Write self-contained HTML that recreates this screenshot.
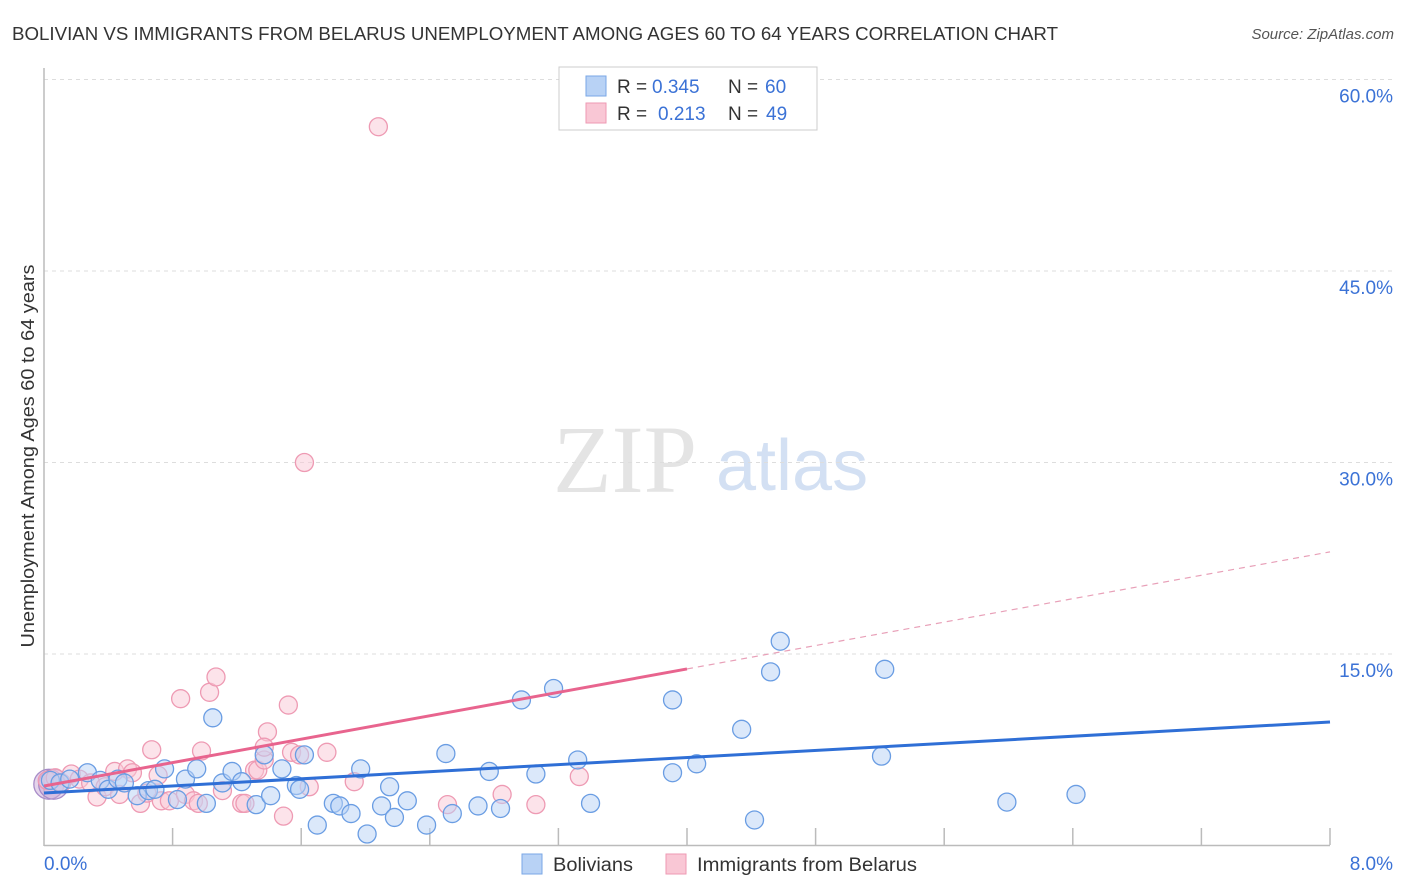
<!DOCTYPE html>
<html><head><meta charset="utf-8">
<style>
body{margin:0;background:#fff;font-family:"Liberation Sans",sans-serif;}
#wrap{position:relative;width:1406px;height:892px;overflow:hidden;}
</style></head>
<body>
<div id="wrap">
<svg id="svg" width="1406" height="892" xmlns="http://www.w3.org/2000/svg">
<text x="12" y="40" font-size="18" fill="#333" textLength="1046" lengthAdjust="spacingAndGlyphs">BOLIVIAN VS IMMIGRANTS FROM BELARUS UNEMPLOYMENT AMONG AGES 60 TO 64 YEARS CORRELATION CHART</text>
<text x="1394" y="39" font-size="15" fill="#555" font-style="italic" text-anchor="end">Source: ZipAtlas.com</text>
<g>
<text x="553" y="492" font-size="96" font-family="Liberation Serif,serif" fill="#e4e4e4">ZIP</text>
<text x="716" y="490" font-size="72" fill="#d3e0f3">atlas</text>
</g>
<g id="grid"></g>
<g id="axes"></g>
<g id="pts"></g>
<g id="trend"></g>
<text transform="translate(34,456) rotate(-90)" font-size="18" fill="#333" text-anchor="middle" textLength="383" lengthAdjust="spacingAndGlyphs">Unemployment Among Ages 60 to 64 years</text>
<g>
<rect x="559" y="67" width="258" height="63" fill="#fff" stroke="#ccc"/>
<rect x="586" y="76" width="20" height="20" fill="#b8d2f5" stroke="#7aa7e6"/>
<rect x="586" y="103" width="20" height="20" fill="#f9c7d5" stroke="#ee9ab3"/>
<text y="93" font-size="19" fill="#333"><tspan x="617">R =</tspan><tspan x="652" fill="#3b72d6">0.345</tspan><tspan x="728">N =</tspan><tspan x="765" fill="#3b72d6">60</tspan></text>
<text y="120" font-size="19" fill="#333"><tspan x="617">R =</tspan><tspan x="658" fill="#3b72d6">0.213</tspan><tspan x="728">N =</tspan><tspan x="766" fill="#3b72d6">49</tspan></text>
</g>
<g>
<rect x="522" y="854" width="20" height="20" fill="#b8d2f5" stroke="#7aa7e6"/>
<text x="553" y="871" font-size="19" fill="#333" textLength="80" lengthAdjust="spacingAndGlyphs">Bolivians</text>
<rect x="666" y="854" width="20" height="20" fill="#f9c7d5" stroke="#ee9ab3"/>
<text x="697" y="871" font-size="19" fill="#333" textLength="220" lengthAdjust="spacingAndGlyphs">Immigrants from Belarus</text>
</g>
</svg>
</div>
<script>
const yTicks=[15,30,45,60];
const xTickLabels=["0.0%","8.0%"];
const blueX=[0.04,0.10,0.16,0.27,0.35,0.40,0.46,0.50,0.58,0.65,0.69,0.75,0.83,0.88,0.95,1.01,1.05,1.11,1.17,1.23,1.32,1.37,1.41,1.48,1.57,1.59,1.62,1.70,1.80,1.84,1.91,1.97,2.01,2.10,2.15,2.18,2.26,2.38,2.50,2.54,2.70,2.77,2.84,2.97,3.06,3.17,3.32,3.40,3.91,3.91,4.06,4.34,4.42,4.52,4.58,5.21,5.23,5.99,6.42];
const blueY=[5.1,4.9,5.2,5.7,5.1,4.4,5.2,4.9,3.9,4.3,4.4,6.0,3.6,5.2,6.0,3.3,10.0,4.9,5.8,5.0,3.2,7.1,3.9,6.0,4.7,4.4,7.1,1.6,3.3,3.1,2.5,6.0,0.9,3.1,4.6,2.2,3.5,1.6,7.2,2.5,3.1,5.8,2.9,11.4,5.6,12.3,6.7,3.3,11.4,5.7,6.4,9.1,2.0,13.6,16.0,7.0,13.8,3.4,4.0];
const pinkX=[0.02,0.07,0.11,0.17,0.22,0.29,0.33,0.38,0.44,0.47,0.52,0.55,0.60,0.64,0.67,0.71,0.73,0.78,0.85,0.88,0.93,0.96,0.98,1.03,1.07,1.11,1.23,1.25,1.31,1.33,1.37,1.39,1.49,1.52,1.54,1.59,1.65,1.76,1.93,2.08,1.62,2.51,2.85,3.06,3.33,1.37];
const pinkY=[5.1,5.3,4.9,5.6,5.2,4.9,3.8,4.6,5.8,4.0,6.0,5.7,3.3,4.1,7.5,5.5,3.5,3.5,11.5,4.0,3.5,3.3,7.4,12.0,13.2,4.3,3.3,3.3,5.9,5.9,6.7,8.9,2.3,11.0,7.3,7.1,4.6,7.3,5.0,56.3,30.0,3.2,4.0,3.2,5.4,7.7];
const bigX=[0.03,0.06];const bigY=[4.8,4.8];
const blueTrend=[4.11,9.67];
const pinkTrend=[4.66,23.0];const pinkSolidEnd=4.0;
const X0=44,X1=1330,Y0=845.5,YPX=191.5/15;
const sx=v=>X0+v/8*(X1-X0), sy=v=>Y0-v*YPX;
const NS="http://www.w3.org/2000/svg";
function mk(t,a,p){const e=document.createElementNS(NS,t);for(const k in a)e.setAttribute(k,a[k]);p.appendChild(e);return e;}
const grid=document.getElementById('grid'),axes=document.getElementById('axes'),pts=document.getElementById('pts'),tr=document.getElementById('trend');
yTicks.forEach(v=>{
 const l=mk('line',{x1:44,x2:1394,y1:sy(v),y2:sy(v),stroke:'#ddd','stroke-dasharray':'4,4'},grid);
 
 
 const t=mk('text',{x:1393,y:sy(v)+23,'font-size':19,fill:'#3b72d6','text-anchor':'end'},grid);
 t.textContent=v.toFixed(1)+'%';
 
 
});
let a=mk('line',{x1:44,x2:44,y1:68,y2:846,stroke:'#bbb','stroke-width':1.5},axes);


a=mk('line',{x1:44,x2:1330,y1:845.5,y2:845.5,stroke:'#bbb','stroke-width':1.5},axes);


for(let i=1;i<=10;i++){const t=mk('line',{x1:sx(i*0.8),x2:sx(i*0.8),y1:828,y2:845,stroke:'#bbb','stroke-width':1.5},axes);
 
 }
[[0,44,'start'],[1,1393,'end']].forEach(([i,x,an])=>{const t=mk('text',{x:x,y:870,'font-size':19,fill:'#3b72d6','text-anchor':an},axes);t.textContent=xTickLabels[i];
 
 });
function dot(x,y,r,c,s,name){const e=mk('circle',{cx:sx(x),cy:sy(y),r:r,fill:c,'fill-opacity':0.5,stroke:s,'stroke-width':1.3},pts);
 
 }
bigX.forEach((x,i)=>dot(x,bigY[i],15,'#c9a9d8','#a88cc8','cluster-point'));
pinkX.forEach((x,i)=>dot(x,pinkY[i],9,'#f9c7d5','#ee9ab3','belarus-point'));
blueX.forEach((x,i)=>dot(x,blueY[i],9,'#b8d2f5','#6a9de3','bolivian-point'));
let l=mk('line',{x1:sx(0),y1:sy(blueTrend[0]),x2:sx(8),y2:sy(blueTrend[1]),stroke:'#2f6fd6','stroke-width':3},tr);


const pm=pinkTrend[0]+(pinkTrend[1]-pinkTrend[0])*pinkSolidEnd/8;
l=mk('line',{x1:sx(0),y1:sy(pinkTrend[0]),x2:sx(pinkSolidEnd),y2:sy(pm),stroke:'#e8648e','stroke-width':3},tr);


l=mk('line',{x1:sx(pinkSolidEnd),y1:sy(pm),x2:sx(8),y2:sy(pinkTrend[1]),stroke:'#e8a0b8','stroke-width':1.2,'stroke-dasharray':'6,5'},tr);


</script>
</body></html>
